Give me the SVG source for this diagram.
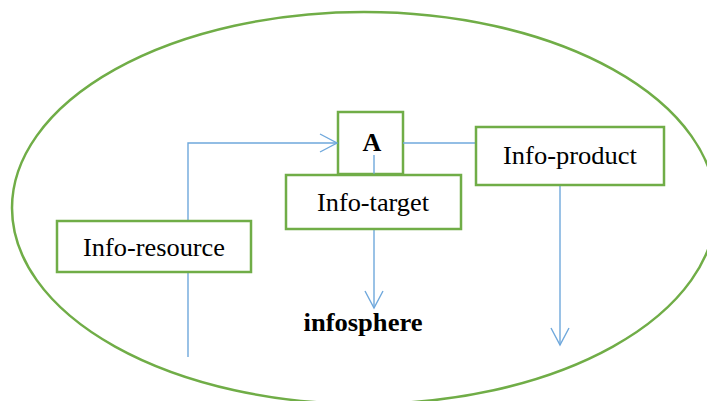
<svg xmlns="http://www.w3.org/2000/svg" width="707" height="401" viewBox="0 0 707 401">
<style>
.box{fill:#fff;stroke:#70AD47;stroke-width:2.5}
.lbl{font-family:'Liberation Serif','Times New Roman',serif;font-size:26px;fill:#000;text-anchor:middle}
.b{font-weight:bold}
.c{fill:none;stroke:#6FA8DC;stroke-width:1.4}
</style>
<defs>
<marker id="ah" viewBox="0 0 20 20" refX="18" refY="10" markerWidth="20" markerHeight="20" markerUnits="userSpaceOnUse" orient="auto">
<path d="M1,1 L18,10 L1,19" fill="none" stroke="#6FA8DC" stroke-width="1.4"/>
</marker>
</defs>
<ellipse id="sphere" cx="364" cy="208" rx="352" ry="196" fill="none" stroke="#70AD47" stroke-width="2.5"/>
<g id="A">
<rect class="box" x="338" y="112" width="65" height="62"/>
<text class="lbl b" x="372" y="151" font-size="27">A</text>
</g>
<g id="connectors">
<path class="c" d="M188,357 V143 H337" marker-end="url(#ah)"/>
<path class="c" d="M403,143 H476"/>
<path class="c" d="M374,155 V308" marker-end="url(#ah)"/>
<path class="c" d="M560,185 V345" marker-end="url(#ah)"/>
</g>
<g id="info-target">
<rect class="box" x="286" y="175" width="175" height="54"/>
<text class="lbl" x="373" y="211" textLength="112" lengthAdjust="spacingAndGlyphs">Info-target</text>
</g>
<g id="info-resource">
<rect class="box" x="57" y="221" width="194" height="51"/>
<text class="lbl" x="154" y="256" textLength="142" lengthAdjust="spacingAndGlyphs">Info-resource</text>
</g>
<g id="info-product">
<rect class="box" x="476" y="127" width="188" height="58"/>
<text class="lbl" x="570" y="164" textLength="134" lengthAdjust="spacingAndGlyphs">Info-product</text>
</g>
<g id="infosphere">
<text class="lbl b" x="363" y="331" font-size="26" textLength="119" lengthAdjust="spacingAndGlyphs">infosphere</text>
</g>
</svg>
